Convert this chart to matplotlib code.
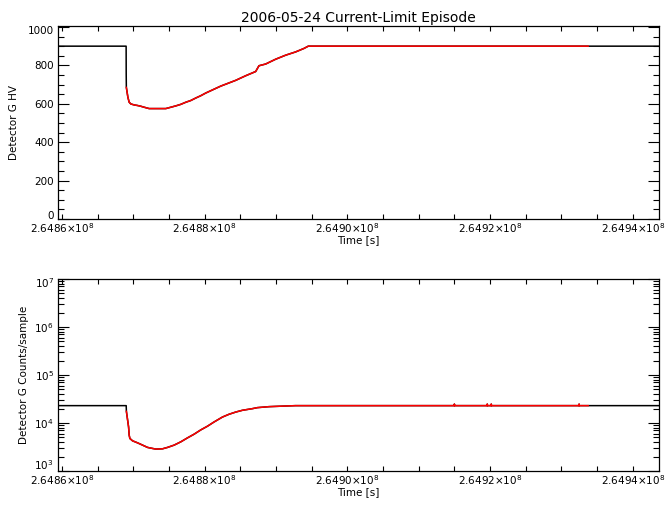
import matplotlib
matplotlib.use("Agg")
import matplotlib.pyplot as plt
from matplotlib.ticker import FixedLocator, MultipleLocator, LogLocator, NullFormatter, FuncFormatter
from matplotlib.transforms import ScaledTranslation
import numpy as np

# ---- data ----
hv_time = [264859440, 264868990, 264869000, 264869020, 264869235, 264869417, 264869655,
           264870117, 264870592, 264871054, 264871516, 264872216, 264874552, 264875252,
           264875952, 264876651, 264877351, 264878051, 264878750, 264879450, 264880150,
           264880849, 264881549, 264882249, 264882948, 264884348, 264885747, 264887146,
           264887608, 264888545, 264889945, 264891344, 264892743, 264893905, 264894521,
           264933743, 264943678]
hv_value = [900, 900, 758, 685, 634, 608, 599,
            594, 591, 587, 582, 575, 575, 582,
            589, 597, 608, 617, 630, 642, 656,
            668, 680, 692, 702, 722, 746, 768,
            798, 807, 832, 853, 870, 888, 900,
            900, 900]

counts_time = [264859440, 264869000, 264869025, 264869333, 264869417, 264869515,
               264869893, 264870592, 264871292, 264871992, 264872691, 264873153,
               264874091, 264874790, 264875714, 264876651, 264877589, 264878512,
               264879450, 264880388, 264881311, 264882487, 264883410, 264884348,
               264885285, 264886684, 264887384, 264889007, 264891344, 264892743,
               264914990, 264915000, 264915010, 264919600, 264919610, 264919620,
               264920160, 264920170, 264920180, 264932470, 264932480, 264932490,
               264933743, 264943678]
counts_value = [23000, 23000, 17500, 8280, 5570, 4760,
                4250, 3860, 3460, 3100, 2950, 2860,
                2900, 3100, 3460, 4050, 4900, 5840,
                7180, 8570, 10500, 13300, 15200, 16900,
                18400, 19900, 20900, 21900, 22600, 23000,
                23000, 24800, 23000, 23000, 24800, 23000,
                23000, 24800, 23000, 23000, 24800, 23000,
                23000, 23000]

episode_start = 264869010
episode_end = 264933743

x_ticks = [264860000, 264880000, 264900000, 264920000, 264940000]
x_tick_labels = ["2.6486", "2.6488", "2.6490", "2.6492", "2.6494"]
x_limits = (264859440, 264943678)

title = "2006-05-24 Current-Limit Episode"
top_ylabel = "Detector G HV"
bottom_ylabel = "Detector G Counts/sample"
xlabel = "Time [s]"

# ---- figure ----
W, H = 672, 511
fig = plt.figure(figsize=(W / 100, H / 100), dpi=100)
plt.rcParams['font.family'] = ['DejaVu Sans']

def ax_rect(x0, y0, x1, y1):
    return [x0 / W, 1 - y1 / H, (x1 - x0) / W, (y1 - y0) / H]

ax1 = fig.add_axes(ax_rect(58, 26, 659, 219))
ax2 = fig.add_axes(ax_rect(58, 279, 659, 471))

fs = 7.5

def xfmt(v, pos):
    for t, lab in zip(x_ticks, x_tick_labels):
        if abs(v - t) < 1:
            return lab + r"$\times$10$^{8}$"
    return ""

def style_x(ax):
    ax.set_xlim(*x_limits)
    ax.xaxis.set_major_locator(FixedLocator(x_ticks))
    ax.xaxis.set_major_formatter(FuncFormatter(xfmt))
    ax.xaxis.set_minor_locator(MultipleLocator(5000))
    ax.tick_params(axis='x', which='both', direction='in', top=True, bottom=True,
                   length=3.5, width=0.8, labelsize=fs, pad=1.5)
    ax.set_xlabel(xlabel, fontsize=fs, labelpad=0.5)
    for s in ax.spines.values():
        s.set_linewidth(0.9)

# top panel
hv_t = np.array(hv_time, dtype=float)
hv_v = np.array(hv_value, dtype=float)
ax1.plot(hv_t, hv_v, color='black', lw=1.1)
m = (hv_t >= episode_start) & (hv_t <= episode_end)
ax1.plot(hv_t[m], hv_v[m], color='red', lw=1.1)
ax1.set_ylim(0, 1005)
ax1.yaxis.set_major_locator(FixedLocator([0, 200, 400, 600, 800, 1000]))
ax1.yaxis.set_minor_locator(MultipleLocator(50))
ax1.tick_params(axis='y', which='major', direction='in', left=True, right=True,
                length=8, width=0.8, labelsize=fs, pad=3)
ax1.tick_params(axis='y', which='minor', direction='in', left=True, right=True,
                length=4, width=0.8)
style_x(ax1)
ax1.set_ylabel(top_ylabel, fontsize=fs, labelpad=6)
ax1.set_title(title, fontsize=10, pad=3)

# bottom panel
c_t = np.array(counts_time, dtype=float)
c_v = np.array(counts_value, dtype=float)
ax2.plot(c_t, c_v, color='black', lw=1.1)
m2 = (c_t >= episode_start) & (c_t <= episode_end)
ax2.plot(c_t[m2], c_v[m2], color='red', lw=1.1)
ax2.set_yscale('log')
ax2.set_ylim(1e3, 1e7)
ax2.yaxis.set_major_locator(FixedLocator([1e3, 1e4, 1e5, 1e6, 1e7]))
ax2.yaxis.set_minor_locator(LogLocator(base=10, subs=np.arange(2, 10), numticks=20))
ax2.yaxis.set_minor_formatter(NullFormatter())
ax2.yaxis.set_major_formatter(FuncFormatter(lambda v, p: r"10$^{%d}$" % round(np.log10(v))))
ax2.tick_params(axis='y', which='major', direction='in', left=True, right=True,
                length=8, width=0.8, labelsize=fs, pad=3)
ax2.tick_params(axis='y', which='minor', direction='in', left=True, right=True,
                length=4, width=0.8)
style_x(ax2)
ax2.set_ylabel(bottom_ylabel, fontsize=fs, labelpad=4)

# nudge end y tick labels inward (as in the reference)
fig.canvas.draw()
up1 = ScaledTranslation(0, 0.04, fig.dpi_scale_trans)
up2 = ScaledTranslation(0, 0.065, fig.dpi_scale_trans)
down = ScaledTranslation(0, -0.035, fig.dpi_scale_trans)
for ax, up in ((ax1, up1), (ax2, up2)):
    ticks = ax.yaxis.get_major_ticks()
    ticks[0].label1.set_transform(ticks[0].label1.get_transform() + up)
    ticks[-1].label1.set_transform(ticks[-1].label1.get_transform() + down)

fig.savefig("out.png", dpi=100)
